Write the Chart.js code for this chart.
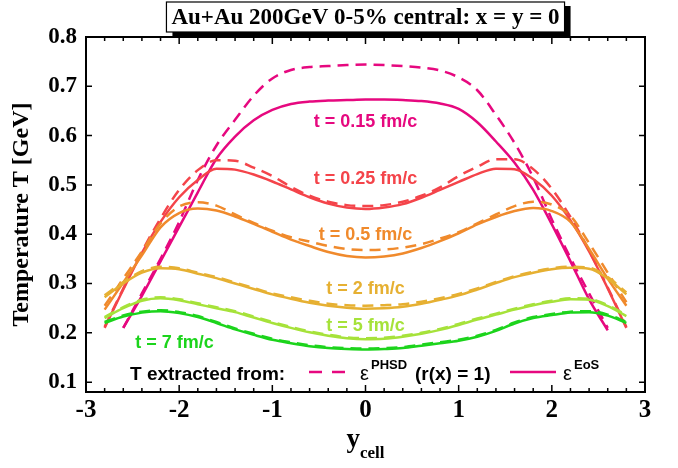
<!DOCTYPE html>
<html>
<head>
<meta charset="utf-8">
<script src="https://cdn.jsdelivr.net/npm/chart.js@4.4.0/dist/chart.umd.min.js"></script>
<style>
  html, body { margin: 0; padding: 0; background: #fff; }
  #wrap { width: 678px; height: 468px; }
</style>
</head>
<body>
<div id="wrap"><canvas id="chart" width="678" height="468"></canvas></div>
<script>
// rapidity of the cell, -2.8 .. 2.8 in steps of 0.2
const ycell = [-2.8, -2.6, -2.4, -2.2, -2.0, -1.8, -1.6, -1.4, -1.2, -1.0, -0.8, -0.6, -0.4, -0.2, 0,
  0.2, 0.4, 0.6, 0.8, 1.0, 1.2, 1.4, 1.6, 1.8, 2.0, 2.2, 2.4, 2.6, 2.8];
const xTicks = [-3, -2, -1, 0, 1, 2, 3];
const yTicks = [0.1, 0.2, 0.3, 0.4, 0.5, 0.6, 0.7, 0.8];

// T [GeV] from eps^PHSD (dashed) and eps^EoS (solid)
const phsd015 = [null, 0.210, 0.280, 0.350, 0.425, 0.510, 0.580, 0.632, 0.681, 0.716, 0.733, 0.739, 0.741, 0.743, 0.744,
  0.743, 0.741, 0.738, 0.732, 0.718, 0.692, 0.642, 0.585, 0.515, 0.430, 0.352, 0.280, 0.210, null];
const eos015 = [null, 0.210, 0.275, 0.345, 0.415, 0.485, 0.553, 0.598, 0.631, 0.652, 0.664, 0.669, 0.671, 0.672, 0.673,
  0.673, 0.672, 0.670, 0.665, 0.654, 0.627, 0.588, 0.545, 0.490, 0.420, 0.345, 0.268, 0.205, null];
const phsd025 = [0.212, 0.290, 0.365, 0.432, 0.490, 0.530, 0.550, 0.549, 0.535, 0.518, 0.496, 0.478, 0.466, 0.459, 0.457,
  0.459, 0.466, 0.478, 0.495, 0.518, 0.537, 0.552, 0.552, 0.532, 0.492, 0.435, 0.367, 0.292, 0.212];
const eos025 = [0.210, 0.288, 0.362, 0.425, 0.475, 0.510, 0.533, 0.531, 0.521, 0.507, 0.491, 0.475, 0.462, 0.454, 0.451,
  0.454, 0.461, 0.474, 0.490, 0.506, 0.522, 0.533, 0.532, 0.512, 0.478, 0.428, 0.365, 0.290, 0.210];
const phsd05 = [0.255, 0.310, 0.365, 0.422, 0.456, 0.465, 0.458, 0.440, 0.423, 0.407, 0.394, 0.385, 0.376, 0.370, 0.368,
  0.369, 0.373, 0.380, 0.391, 0.404, 0.422, 0.440, 0.457, 0.466, 0.460, 0.437, 0.382, 0.322, 0.262];
const eos05 = [0.247, 0.302, 0.357, 0.414, 0.443, 0.452, 0.448, 0.436, 0.421, 0.405, 0.389, 0.376, 0.364, 0.356, 0.353,
  0.355, 0.361, 0.372, 0.386, 0.402, 0.420, 0.435, 0.447, 0.453, 0.447, 0.425, 0.370, 0.310, 0.255];
const phsd2 = [0.276, 0.303, 0.325, 0.334, 0.331, 0.322, 0.313, 0.302, 0.291, 0.280, 0.272, 0.265, 0.259, 0.256, 0.255,
  0.256, 0.258, 0.263, 0.270, 0.279, 0.290, 0.303, 0.315, 0.324, 0.331, 0.334, 0.332, 0.313, 0.282];
const eos2 = [0.272, 0.300, 0.322, 0.331, 0.329, 0.320, 0.311, 0.300, 0.289, 0.278, 0.269, 0.261, 0.255, 0.251, 0.249,
  0.250, 0.253, 0.259, 0.267, 0.276, 0.288, 0.301, 0.313, 0.322, 0.329, 0.332, 0.330, 0.310, 0.278];
const phsd5 = [0.232, 0.252, 0.267, 0.272, 0.268, 0.260, 0.252, 0.244, 0.233, 0.222, 0.212, 0.203, 0.196, 0.191, 0.189,
  0.190, 0.194, 0.200, 0.208, 0.218, 0.229, 0.239, 0.249, 0.258, 0.265, 0.270, 0.269, 0.256, 0.236];
const eos5 = [0.230, 0.250, 0.265, 0.270, 0.266, 0.258, 0.250, 0.242, 0.231, 0.220, 0.210, 0.201, 0.194, 0.189, 0.187,
  0.188, 0.192, 0.198, 0.206, 0.216, 0.227, 0.237, 0.247, 0.256, 0.263, 0.268, 0.267, 0.254, 0.234];
const phsd7 = [0.222, 0.235, 0.243, 0.246, 0.242, 0.234, 0.222, 0.209, 0.198, 0.188, 0.181, 0.175, 0.171, 0.169, 0.168,
  0.169, 0.171, 0.176, 0.181, 0.186, 0.194, 0.206, 0.221, 0.232, 0.238, 0.243, 0.244, 0.237, 0.222];
const eos7 = [0.220, 0.233, 0.241, 0.244, 0.240, 0.232, 0.220, 0.207, 0.196, 0.186, 0.179, 0.173, 0.169, 0.167, 0.166,
  0.167, 0.169, 0.174, 0.179, 0.184, 0.192, 0.204, 0.219, 0.230, 0.236, 0.241, 0.242, 0.235, 0.220];

const timeLabels = ["t = 0.15 fm/c", "t = 0.25 fm/c", "t = 0.5 fm/c", "t = 2 fm/c", "t = 5 fm/c", "t = 7 fm/c"];
const colors = ["#e6087f", "#f4444a", "#f08a2c", "#e6b032", "#a6e23a", "#1cd41c"];

function series(vals, color, dashed) {
  return {
    data: vals.map((v, i) => ({ x: ycell[i], y: v })),
    borderColor: color,
    borderWidth: 2.5,
    borderDash: dashed ? [11, 7] : [],
    pointRadius: 0,
    cubicInterpolationMode: "monotone",
    fill: false,
  };
}

const datasets = [
  series(phsd7, colors[5], true), series(eos7, colors[5], false),
  series(phsd5, colors[4], true), series(eos5, colors[4], false),
  series(phsd2, colors[3], true), series(eos2, colors[3], false),
  series(phsd05, colors[2], true), series(eos05, colors[2], false),
  series(phsd025, colors[1], true), series(eos025, colors[1], false),
  series(phsd015, colors[0], true), series(eos015, colors[0], false),
];

const SERIF = "'Liberation Serif', 'Times New Roman', serif";
const SANS = "'Liberation Sans', Arial, sans-serif";

const decor = {
  id: "decor",
  afterDraw(chart) {
    const { ctx, chartArea: a, scales: { x, y } } = chart;
    ctx.save();

    // frame + inward ticks
    ctx.strokeStyle = "#000";
    ctx.lineWidth = 2;
    ctx.strokeRect(a.left, a.top, a.right - a.left, a.bottom - a.top);
    ctx.lineWidth = 1.5;
    ctx.beginPath();
    for (let k = -15; k <= 15; k++) {
      const px = x.getPixelForValue(k / 5);
      const len = k % 5 === 0 ? 7 : 4;
      ctx.moveTo(px, a.bottom); ctx.lineTo(px, a.bottom - len);
      ctx.moveTo(px, a.top); ctx.lineTo(px, a.top + len);
    }
    yTicks.forEach(v => {
      const py = y.getPixelForValue(v);
      ctx.moveTo(a.left, py); ctx.lineTo(a.left + 6, py);
      ctx.moveTo(a.right, py); ctx.lineTo(a.right - 6, py);
    });
    ctx.stroke();

    // time labels
    const labelPos = [[0, 0.627], [0, 0.512], [0, 0.399], [0, 0.288], [0, 0.214], [-2.05, 0.180]];
    ctx.font = "bold 18px " + SANS;
    ctx.textAlign = "center";
    ctx.textBaseline = "middle";
    timeLabels.forEach((t, i) => {
      ctx.fillStyle = colors[i];
      ctx.fillText(t, x.getPixelForValue(labelPos[i][0]), y.getPixelForValue(labelPos[i][1]));
    });

    // legend row
    const base = 380, lineY = 372;
    ctx.textAlign = "left";
    ctx.textBaseline = "alphabetic";
    ctx.fillStyle = "#000";
    ctx.font = "bold 19px " + SANS;
    ctx.fillText("T extracted from:", 130, base);
    ctx.strokeStyle = colors[0];
    ctx.lineWidth = 2.5;
    ctx.setLineDash([13, 10]);
    ctx.beginPath(); ctx.moveTo(309, lineY); ctx.lineTo(349, lineY); ctx.stroke();
    ctx.setLineDash([]);
    ctx.beginPath(); ctx.moveTo(510, lineY); ctx.lineTo(556, lineY); ctx.stroke();

    ctx.font = "20px " + SANS;
    ctx.fillText("\u03b5", 360, base);
    ctx.font = "bold 13px " + SANS;
    ctx.fillText("PHSD", 371, base - 11);
    ctx.font = "bold 19px " + SANS;
    ctx.fillText("(r(x) = 1)", 415, base);
    ctx.font = "20px " + SANS;
    ctx.fillText("\u03b5", 563, base);
    ctx.font = "bold 13px " + SANS;
    ctx.fillText("EoS", 574, base - 11);

    // title box with shadow
    const title = "Au+Au 200GeV 0-5% central: x = y = 0";
    ctx.font = "bold 23px " + SERIF;
    const tw = ctx.measureText(title).width;
    const cx = (a.left + a.right) / 2;
    const bx = cx - tw / 2 - 5, bw = tw + 10, by = 2, bh = 30;
    ctx.fillStyle = "#000";
    ctx.fillRect(bx + 6, by + 4, bw, bh);
    ctx.fillStyle = "#fff";
    ctx.fillRect(bx, by, bw, bh);
    ctx.strokeStyle = "#000";
    ctx.lineWidth = 1.2;
    ctx.strokeRect(bx, by, bw, bh);
    ctx.fillStyle = "#000";
    ctx.textAlign = "center";
    ctx.textBaseline = "middle";
    ctx.fillText(title, cx, by + bh / 2 + 1);

    // axis titles
    ctx.save();
    ctx.translate(22, (a.top + a.bottom) / 2);
    ctx.rotate(-Math.PI / 2);
    ctx.font = "bold 24px " + SERIF;
    ctx.fillText("Temperature T [GeV]", 0, 0);
    ctx.restore();

    ctx.textAlign = "left";
    ctx.textBaseline = "alphabetic";
    ctx.font = "bold 27px " + SERIF;
    const yw = ctx.measureText("y").width;
    ctx.font = "bold 17px " + SERIF;
    const cw = ctx.measureText("cell").width;
    const sx = cx - (yw + cw) / 2;
    ctx.font = "bold 27px " + SERIF;
    ctx.fillText("y", sx, 447);
    ctx.font = "bold 17px " + SERIF;
    ctx.fillText("cell", sx + yw, 458);

    ctx.restore();
  }
};

new Chart(document.getElementById("chart"), {
  type: "line",
  data: { datasets },
  options: {
    responsive: false,
    animation: false,
    devicePixelRatio: 1,
    layout: { padding: { top: 37, right: 33, left: 0, bottom: 0 } },
    plugins: { legend: { display: false }, tooltip: { enabled: false } },
    scales: {
      x: {
        type: "linear",
        min: -3,
        max: 3,
        afterBuildTicks: s => { s.ticks = xTicks.map(v => ({ value: v })); },
        afterFit: s => { s.height = 76; },
        grid: { display: false, drawTicks: false },
        border: { display: false },
        ticks: {
          padding: 4,
          color: "#000",
          font: { family: SERIF, weight: "bold", size: 25 },
          callback: v => String(v),
        },
      },
      y: {
        type: "linear",
        min: 0.08,
        max: 0.8,
        afterBuildTicks: s => { s.ticks = yTicks.map(v => ({ value: v })); },
        afterFit: s => { s.width = 86; },
        grid: { display: false, drawTicks: false },
        border: { display: false },
        ticks: {
          padding: 9,
          color: "#000",
          font: { family: SERIF, weight: "bold", size: 23 },
          callback: v => v.toFixed(1),
        },
      },
    },
  },
  plugins: [decor],
});
</script>
</body>
</html>
